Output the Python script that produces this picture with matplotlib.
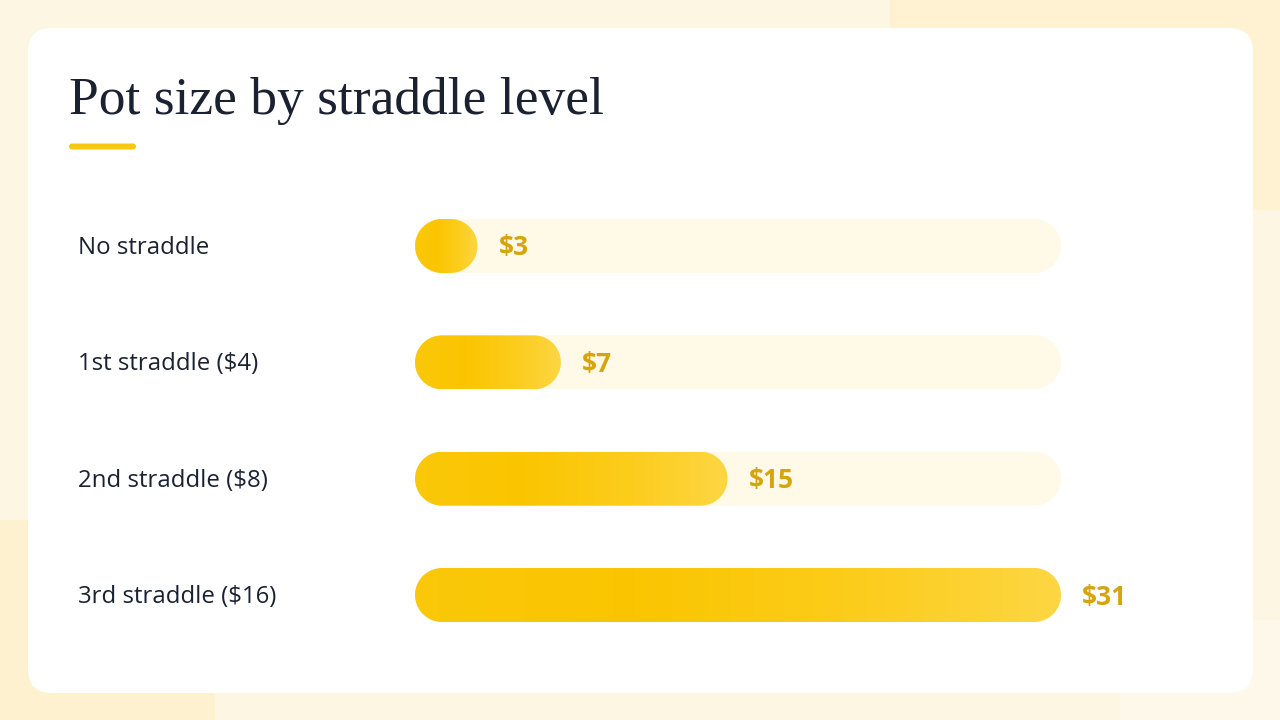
import numpy as np
import matplotlib
matplotlib.use("Agg")
import matplotlib.pyplot as plt
from matplotlib.patches import FancyBboxPatch, Polygon
from matplotlib.colors import LinearSegmentedColormap

# data
categories = ["No straddle", "1st straddle ($4)", "2nd straddle ($8)", "3rd straddle ($16)"]
pot_sizes = [3, 7, 15, 31]
value_labels = ["$3", "$7", "$15", "$31"]
title = "Pot size by straddle level"

W, H = 1280, 720
BG = "#FDF6E3"
TRACK = "#FFF9E8"
GOLD_TXT = "#D6A40C"
INK = "#1A2130"


def pill(x, yc, w, h, rx, ry, **kw):
    """Capsule shape in data units; rx, ry are the end radii per axis."""
    rx = min(rx, w / 2)
    t = np.linspace(-np.pi / 2, np.pi / 2, 40)
    right = np.column_stack([x + w - rx + rx * np.cos(t), yc + ry * np.sin(t)])
    left = np.column_stack([x + rx - rx * np.cos(t), yc - ry * np.sin(t)])
    return Polygon(np.vstack([right, left]), closed=True, **kw)


fig = plt.figure(figsize=(W / 100, H / 100), dpi=100, facecolor=BG)

# pixel canvas for background, card and title
bg = fig.add_axes([0, 0, 1, 1])
bg.set_xlim(0, W)
bg.set_ylim(H, 0)
bg.axis("off")

# soft background shapes
bg.add_patch(FancyBboxPatch((890, -80), 500, 290, boxstyle="round,pad=0,rounding_size=60",
                            fc="#FEF2D2", ec="none", zorder=0))
bg.add_patch(FancyBboxPatch((-120, 520), 335, 300, boxstyle="round,pad=0,rounding_size=80",
                            fc="#FEF1D0", ec="none", zorder=0))
bg.add_patch(FancyBboxPatch((1120, 620), 300, 200, boxstyle="round,pad=0,rounding_size=60",
                            fc="#FEF8EA", ec="none", zorder=0))

# white card
bg.add_patch(FancyBboxPatch((28, 28), 1225, 665, boxstyle="round,pad=0,rounding_size=24",
                            fc="white", ec="none", zorder=1))

bg.text(69, 114, title, fontsize=38.5, family="Liberation Serif", color=INK,
        ha="left", va="baseline", zorder=3)
bg.add_patch(FancyBboxPatch((69, 143.5), 67, 6, boxstyle="round,pad=0,rounding_size=3",
                            fc="#F9C80E", ec="none", zorder=3))

# bar axes: x from 415 to 1061 px, rows centred at 246 ... 595 px
x0, x1 = 415, 1061
step = (595 - 246) / 3
y_top = 246 - step / 2
y_bot = 595 + step / 2
ax = fig.add_axes([x0 / W, 1 - y_bot / H, (x1 - x0) / W, (y_bot - y_top) / H])
ax.set_facecolor("none")
ax.axis("off")
vmax = max(pot_sizes)
n = len(categories)
ax.set_xlim(0, vmax)
ax.set_ylim(n - 0.5, -0.5)

px_per_x = (x1 - x0) / vmax
px_per_y = step
bar_h = 54 / px_per_y
r_x = 27 / px_per_x
r_y = bar_h / 2

cmap = LinearSegmentedColormap.from_list("gold", ["#FBC80A", "#FAC500", "#FCCC1A", "#FDD643"])
grad = np.linspace(0, 1, 256).reshape(1, -1)

for i, (cat, v, lab) in enumerate(zip(categories, pot_sizes, value_labels)):
    ax.add_patch(pill(0, i, vmax, bar_h, r_x, r_y, fc=TRACK, ec="none", zorder=1))
    bar = pill(0, i, v, bar_h, r_x, r_y, fc="none", ec="none", zorder=2)
    ax.add_patch(bar)
    im = ax.imshow(grad, cmap=cmap, aspect="auto", extent=(0, v, i + bar_h / 2, i - bar_h / 2),
                   zorder=2, interpolation="bilinear")
    im.set_clip_path(bar)
    ax.text(v + 21 / px_per_x, i + 2 / px_per_y, lab, fontsize=19, fontweight="bold",
            family="Open Sans", color=GOLD_TXT, ha="left", va="center", zorder=3)
    bg.text(78, 248 + i * step, cat, fontsize=17.3, family="Open Sans", color=INK,
            ha="left", va="center", zorder=3)

ax.set_xlim(0, vmax)
ax.set_ylim(n - 0.5, -0.5)

fig.savefig("out.png", dpi=100, facecolor=BG)
